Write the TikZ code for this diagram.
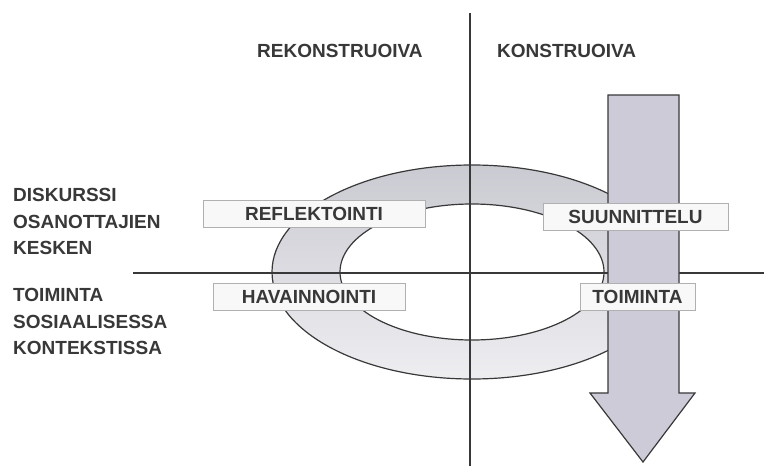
\documentclass[tikz,border=0pt]{standalone}
\usepackage{fontspec}
\setmainfont{Liberation Sans}
\usetikzlibrary{shapes,arrows}
\definecolor{inkgray}{HTML}{383838}
\definecolor{ringtop}{HTML}{CACAD2}
\definecolor{ringbottom}{HTML}{EEEEF1}
\definecolor{arrowfill}{HTML}{CDCBD8}
\definecolor{boxfill}{HTML}{F8F8F8}
\definecolor{boxline}{HTML}{B0B0B0}
\tikzstyle{axis} = [draw = inkgray, line width = 1.3pt]
\tikzstyle{ring} = [draw = inkgray, line width = 1.2pt, top color = ringtop, bottom color = ringbottom, even odd rule]
\tikzstyle{bigarrow} = [draw = inkgray, line width = 1.2pt, fill = arrowfill, line join = miter]
\tikzstyle{labelbox} = [rectangle, draw = boxline, fill = boxfill, text = inkgray, font = \bfseries\fontsize{19}{23}\selectfont, minimum height = 27pt, inner sep = 0pt]
\tikzstyle{heading} = [text = inkgray, font = \bfseries\fontsize{19}{23}\selectfont, anchor = base west, inner sep = 0pt]
\tikzstyle{sidelabel} = [text = inkgray, font = \bfseries\fontsize{19}{26.7}\selectfont, align = left, anchor = north west, inner sep = 0pt]

\begin{document}
\begin{tikzpicture}[x = 1pt, y = -1pt]
\useasboundingbox (0,0) rectangle (764,466);
% ring
\path[ring] (472,272) ellipse (200 and 107) (472,272) ellipse (132 and 68);
% axes
\coordinate (top) at (470,13);
\coordinate (bottom) at (470,466);
\coordinate (left) at (133,273);
\coordinate (right) at (764,273);
\draw[axis] (top) -- (bottom);
\draw[axis] (left) -- (right);
% downward arrow
\draw[bigarrow] (608,95) -- (679,95) -- (679,393) -- (695,393) -- (643,462) -- (590,393) -- (608,393) -- cycle;
% headings
\node[heading] (rekon) at (257,57) {REKONSTRUOIVA};
\node[heading] (kon) at (497,57) {KONSTRUOIVA};
\node[sidelabel] (diskurssi) at (13,188) {DISKURSSI\\OSANOTTAJIEN\\KESKEN};
\node[sidelabel] (toimintaside) at (13,288) {TOIMINTA\\SOSIAALISESSA\\KONTEKSTISSA};
% phases
\node[labelbox, minimum width = 222pt] (reflektointi) at (314,213.5) {REFLEKTOINTI};
\node[labelbox, minimum width = 185pt] (suunnittelu) at (635.5,216.5) {SUUNNITTELU};
\node[labelbox, minimum width = 192pt] (havainnointi) at (309,297) {HAVAINNOINTI};
\node[labelbox, minimum width = 115pt] (toiminta) at (637.5,296.5) {TOIMINTA};
\end{tikzpicture}
\end{document}
